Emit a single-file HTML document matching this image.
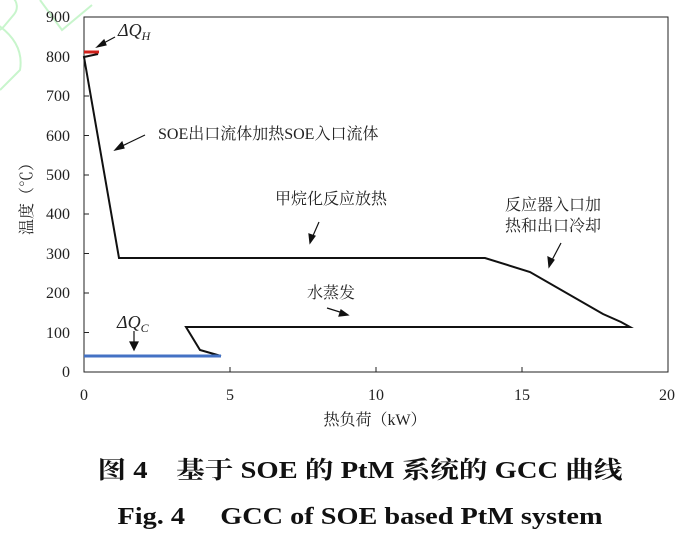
<!DOCTYPE html>
<html><head><meta charset="utf-8"><style>
html,body{margin:0;padding:0;background:#fff;width:698px;height:538px;overflow:hidden}
svg{display:block}
.t{font-family:"Liberation Serif","Noto Serif CJK SC",serif;fill:#222}
</style></head><body>
<svg width="698" height="538" viewBox="0 0 698 538" xmlns="http://www.w3.org/2000/svg">
<g fill="none" stroke="#c8f5cc" stroke-width="2">
<rect x="-40" y="-10" width="60" height="40" rx="12" transform="rotate(40 0 0)"/>
<path d="M40 0 L62 30 L92 5"/>
<path d="M-10 20 Q25 40 20 70 L0 90"/>
</g>
<rect x="84" y="17" width="584" height="355" fill="none" stroke="#222" stroke-width="1"/>
<g stroke="#222" stroke-width="1">
<line x1="84" y1="56.5" x2="89" y2="56.5"/><line x1="84" y1="96" x2="89" y2="96"/>
<line x1="84" y1="135.5" x2="89" y2="135.5"/><line x1="84" y1="175" x2="89" y2="175"/>
<line x1="84" y1="214" x2="89" y2="214"/><line x1="84" y1="253.5" x2="89" y2="253.5"/>
<line x1="84" y1="293" x2="89" y2="293"/><line x1="84" y1="332.5" x2="89" y2="332.5"/>
<line x1="230" y1="372" x2="230" y2="367"/><line x1="376" y1="372" x2="376" y2="367"/>
<line x1="522" y1="372" x2="522" y2="367"/>
</g>
<g class="t" font-size="16" text-anchor="end">
<text x="70" y="22">900</text><text x="70" y="62">800</text><text x="70" y="101">700</text>
<text x="70" y="141">600</text><text x="70" y="180">500</text><text x="70" y="219">400</text>
<text x="70" y="259">300</text><text x="70" y="298">200</text><text x="70" y="338">100</text>
<text x="70" y="377">0</text>
</g>
<g class="t" font-size="16" text-anchor="middle">
<text x="84" y="400">0</text><text x="230" y="400">5</text><text x="376" y="400">10</text>
<text x="522" y="400">15</text><text x="667" y="400">20</text>
<text x="375" y="425">热负荷（kW）</text>
</g>
<text class="t" font-size="16" text-anchor="middle" transform="translate(32 195) rotate(-90)">温度（℃）</text>
<polyline fill="none" stroke="#111" stroke-width="2" points="84,57 98,54 84,57 119,258 485,258 530,272 603,314 621,322 630,327 186,327 200,350 221,356"/>
<line x1="84" y1="356" x2="221" y2="356" stroke="#4472c4" stroke-width="3"/>
<line x1="84" y1="52" x2="99" y2="52" stroke="#d0201a" stroke-width="3"/>
<g stroke="#111" stroke-width="1.2" fill="#111">
<line x1="115" y1="37" x2="100" y2="45"/><polygon points="97,47 104,40 106,45"/>
<line x1="145" y1="135" x2="120" y2="147"/><polygon points="115,150 122,142 124,148"/>
<line x1="319" y1="222" x2="312" y2="238"/><polygon points="310,243 309,234 315,236"/>
<line x1="561" y1="243" x2="551" y2="262"/><polygon points="549,267 548,257 554,260"/>
<line x1="134" y1="331" x2="134" y2="345"/><polygon points="134,350 130,342 138,342"/>
<line x1="327" y1="308" x2="343" y2="313"/><polygon points="348,315 339,316 341,310"/>
</g>
<g class="t" font-size="16">
<text x="118" y="36" font-style="italic" font-size="18">ΔQ<tspan font-size="12" dy="4">H</tspan></text>
<text x="117" y="328" font-style="italic" font-size="18">ΔQ<tspan font-size="12" dy="4">C</tspan></text>
<text x="158" y="139">SOE出口流体加热SOE入口流体</text>
<text x="275" y="204">甲烷化反应放热</text>
<text x="505" y="210">反应器入口加</text>
<text x="505" y="231">热和出口冷却</text>
<text x="307" y="298">水蒸发</text>
</g>
<text x="360" y="478" text-anchor="middle" font-family="Liberation Serif,'Noto Serif CJK SC',serif" font-size="24" font-weight="bold" fill="#111" textLength="525" lengthAdjust="spacingAndGlyphs">图 4　基于 SOE 的 PtM 系统的 GCC 曲线</text>
<text x="360" y="524" text-anchor="middle" font-family="Liberation Serif,serif" font-size="24" font-weight="bold" fill="#111" textLength="485" lengthAdjust="spacingAndGlyphs">Fig. 4　 GCC of SOE based PtM system</text>
</svg>
</body></html>
